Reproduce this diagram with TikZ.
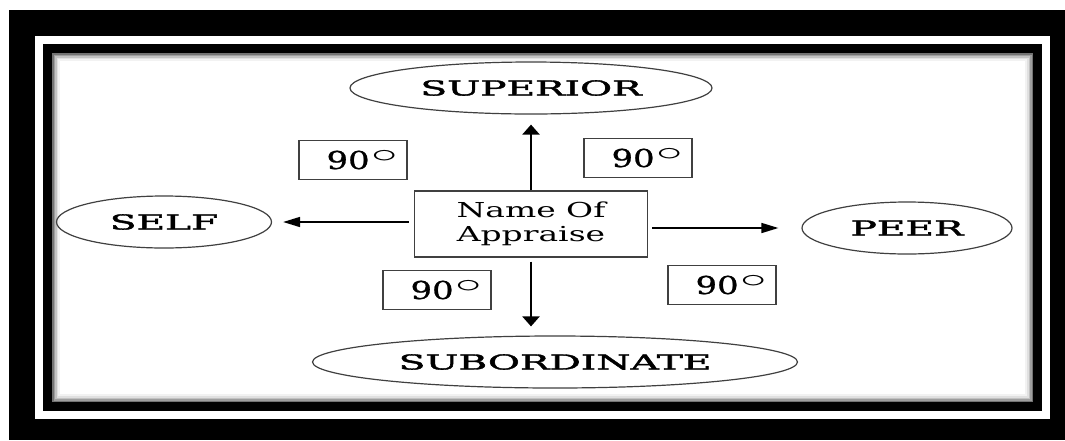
\documentclass[tikz,border=0pt]{standalone}
\usepackage{fontspec}
\usepackage{graphicx}
\setmainfont{DejaVu Serif}
\newfontfamily\heavyfont{DejaVu Serif}[FakeBold=1.6]
\newfontfamily\midfont{DejaVu Serif}[FakeBold=0.8]
\usetikzlibrary{shapes.geometric,arrows.meta}
\newcommand{\wtext}[2]{\scalebox{#1}[1]{#2}}
\newcommand{\ninety}{\wtext{1.37}{90\hspace{1pt}\raisebox{6pt}{\scalebox{1.55}[1.1]{$\circ$}}}}
\begin{document}
\begin{tikzpicture}[x=1pt,y=-1pt,
  ell/.style={ellipse,draw=black!75,line width=1.2pt,inner sep=0pt,
    minimum height=52pt,font=\heavyfont\fontsize{20.6}{24}\selectfont},
  cbox/.style={rectangle,draw=black!75,line width=1.3pt,inner sep=0pt,
    minimum width=233pt,minimum height=66pt,align=center,
    font=\fontsize{20.6}{24}\selectfont},
  dbox/.style={rectangle,draw=black!75,line width=1.3pt,inner sep=0pt,
    minimum width=108pt,minimum height=39pt,font=\midfont\fontsize{24.7}{28}\selectfont},
  varr/.style={line width=2.4pt,-{Triangle[length=10pt,width=17pt]}},
  harr/.style={line width=1.6pt,-{Triangle[length=17pt,width=10pt]}}
]
\useasboundingbox (0,0) rectangle (1065,440);
% frame
\fill[white] (0,0) rectangle (1065,440);
\fill[black] (9,10) rectangle (1065,440);
\fill[white] (35,36) rectangle (1050,419);
\fill[black] (43,44) rectangle (1042,411);
\fill[white] (52,53) rectangle (1033,402);
\foreach \i/\c in {0/55,1.5/38,3/24,4.5/12,6/5}{
  \draw[black!\c,line width=1.6pt] (52.8+\i,53.8+\i) rectangle (1032.2-\i,401.2-\i);
}
% nodes
\node[ell,minimum width=362pt] (sup) at (531,88) {\wtext{1.9}{SUPERIOR}};
\node[ell,minimum width=215pt] (self) at (164,222) {\wtext{1.9}{SELF}};
\node[ell,minimum width=210pt] (peer) at (907,228) {\wtext{1.9}{PEER}};
\node[ell,minimum width=485pt] (sub) at (555,362) {\wtext{1.9}{SUBORDINATE}};
\node[cbox] (c) at (531,224) {\wtext{1.6}{Name Of}\\\wtext{1.6}{Appraise}};
\node[dbox] (d1) at (353,160) {\hspace*{18pt}\ninety};
\node[dbox] (d2) at (638,158) {\hspace*{18pt}\ninety};
\node[dbox] (d3) at (437,290) {\hspace*{18pt}\ninety};
\node[dbox] (d4) at (722,285) {\hspace*{18pt}\ninety};
% connectors
\draw[varr,shorten >=10pt] (c.north) -- (sup.south);
\draw[varr,shorten <=4pt,shorten >=9pt] (c.south) -- (c.south |- sub.north);
\draw[harr,shorten <=5pt,shorten >=11pt] (c.west |- self.east) -- (self.east);
\draw[harr,shorten <=4pt,shorten >=23pt] (c.east |- peer.west) -- (peer.west);
\end{tikzpicture}
\end{document}
